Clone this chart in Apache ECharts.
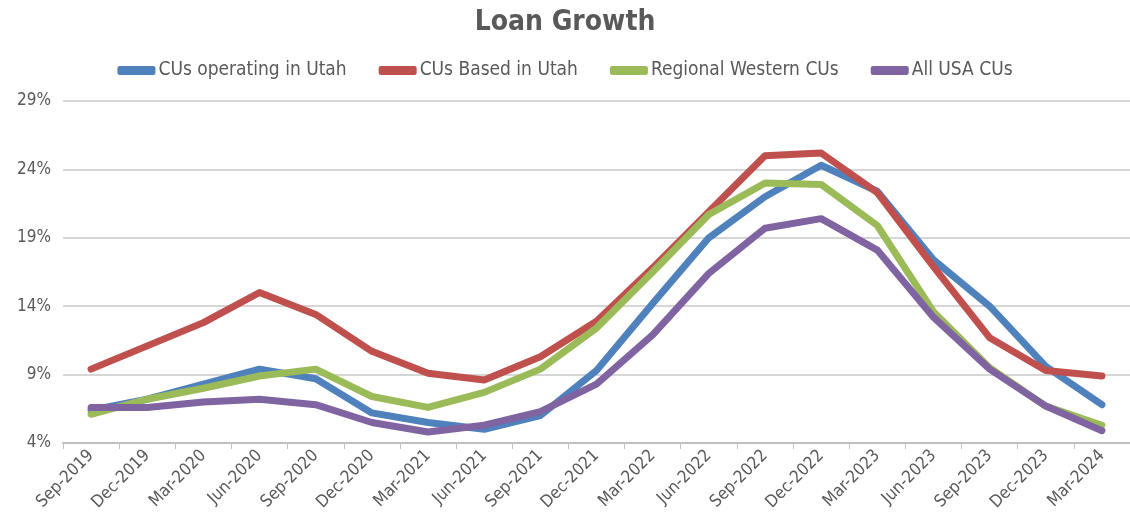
<!DOCTYPE html>
<html lang="en">
<head>
    <meta charset="UTF-8">
    <title>Loan Growth</title>
    <script src="https://cdn.jsdelivr.net/npm/echarts@6/dist/echarts.min.js"></script>
    <style>
        html, body { margin: 0; padding: 0; background: #fff; }
    </style>
</head>
<body>
<div id="main" style="width: 1130px; height: 527px;"></div>
<script>
    // quarterly categories
    var quarters = ['Sep-2019', 'Dec-2019', 'Mar-2020', 'Jun-2020', 'Sep-2020', 'Dec-2020', 'Mar-2021',
        'Jun-2021', 'Sep-2021', 'Dec-2021', 'Mar-2022', 'Jun-2022', 'Sep-2022', 'Dec-2022', 'Mar-2023',
        'Jun-2023', 'Sep-2023', 'Dec-2023', 'Mar-2024'];

    // loan growth, percent
    var cusOperatingUtah = [6.4, 7.2, 8.3, 9.4, 8.7, 6.2, 5.5, 5.0, 6.0, 9.3, 14.2, 19.0, 22.0, 24.3, 22.4, 17.4, 14.0, 9.6, 6.8];
    var cusBasedUtah = [9.4, 11.1, 12.8, 15.0, 13.4, 10.7, 9.1, 8.6, 10.3, 12.9, 16.8, 20.9, 25.0, 25.2, 22.3, 16.9, 11.7, 9.3, 8.9];
    var regionalWestern = [6.1, 7.2, 8.0, 8.9, 9.4, 7.4, 6.6, 7.7, 9.4, 12.4, 16.5, 20.7, 23.0, 22.9, 19.9, 13.6, 9.5, 6.7, 5.3];
    var allUsa = [6.6, 6.6, 7.0, 7.2, 6.8, 5.5, 4.8, 5.3, 6.3, 8.3, 11.9, 16.4, 19.7, 20.4, 18.1, 13.2, 9.4, 6.7, 4.9];

    var yMin = 4, yMax = 29, yStep = 5;

    var font = "'Liberation Sans Narrow', 'DejaVu Sans Condensed', 'Noto Sans', sans-serif";
    var textGray = '#595959';

    function line(name, data, color) {
        return {
            name: name,
            type: 'line',
            data: data,
            symbol: 'none',
            lineStyle: { color: color, width: 7, cap: 'round', join: 'round' },
            itemStyle: { color: color }
        };
    }

    var mychart = echarts.init(document.getElementById('main'));
    mychart.setOption({
        animation: false,
        title: {
            text: 'Loan Growth',
            left: 'center',
            top: 4,
            textStyle: { fontFamily: font, fontSize: 28, fontWeight: 'bold', color: textGray }
        },
        legend: {
            top: 56,
            left: 'center',
            icon: 'roundRect',
            itemWidth: 38,
            itemHeight: 9,
            itemGap: 32,
            textStyle: { fontFamily: font, fontSize: 19, color: textGray, padding: [0, 0, 0, -2] },
            data: ['CUs operating in Utah', 'CUs Based in Utah', 'Regional Western CUs', 'All USA CUs']
        },
        grid: { left: 63, top: 101, width: 1070, bottom: 84, containLabel: false },
        xAxis: {
            type: 'category',
            data: quarters,
            boundaryGap: true,
            axisLine: { lineStyle: { color: '#bfbfbf', width: 2 } },
            axisTick: { show: true, alignWithLabel: false, length: 6, lineStyle: { color: '#bfbfbf' } },
            axisLabel: { rotate: 45, fontFamily: font, fontSize: 17, color: textGray, margin: 10, interval: 0 }
        },
        yAxis: {
            type: 'value',
            min: yMin,
            max: yMax,
            interval: yStep,
            axisLine: { show: false },
            axisTick: { show: false },
            axisLabel: { formatter: '{value}%', fontFamily: font, fontSize: 17, color: textGray, margin: 12 },
            splitLine: { lineStyle: { color: '#c8c8c8', width: 1.5 } }
        },
        series: [
            line('CUs operating in Utah', cusOperatingUtah, '#4F81BD'),
            line('CUs Based in Utah', cusBasedUtah, '#C0504D'),
            line('Regional Western CUs', regionalWestern, '#9BBB59'),
            line('All USA CUs', allUsa, '#8064A2')
        ]
    });
</script>
</body>
</html>
